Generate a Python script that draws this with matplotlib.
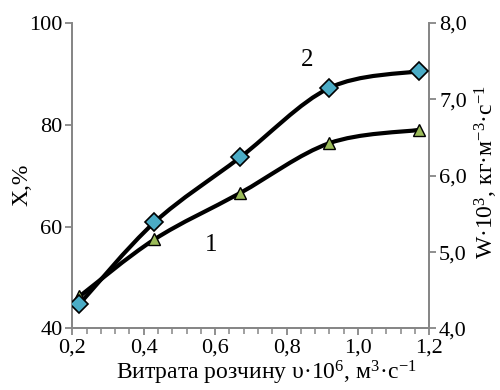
import matplotlib
matplotlib.use('Agg')
import matplotlib.pyplot as plt
from matplotlib.path import Path
from matplotlib.patches import PathPatch
from matplotlib.ticker import MultipleLocator, FuncFormatter

plt.rcParams['font.family'] = ['Liberation Serif', 'DejaVu Serif']
plt.rcParams['mathtext.fontset'] = 'custom'
plt.rcParams['mathtext.rm'] = 'Liberation Serif'
plt.rcParams['mathtext.it'] = 'Liberation Serif:italic'

# solution flow rate, 10^-6 m3/s
flow = [0.22, 0.43, 0.67, 0.92, 1.17]
# curve 1: X, %
conversion = [46.3, 57.5, 66.6, 76.4, 79.0]
# curve 2: W*10^3, kg/(m3*s)
rate = [4.32, 5.39, 6.24, 7.15, 7.37]


def smooth_path(xs, ys):
    # Bezier curve through the points, like a spreadsheet "smoothed line"
    pts = list(zip(xs, ys))
    n = len(pts)
    verts = [pts[0]]
    codes = [Path.MOVETO]
    for i in range(n - 1):
        p0 = pts[i - 1] if i > 0 else pts[i]
        p1 = pts[i]
        p2 = pts[i + 1]
        p3 = pts[i + 2] if i + 2 < n else pts[i + 1]
        c1 = (p1[0] + (p2[0] - p0[0]) / 6, p1[1] + (p2[1] - p0[1]) / 6)
        c2 = (p2[0] - (p3[0] - p1[0]) / 6, p2[1] - (p3[1] - p1[1]) / 6)
        verts += [c1, c2, p2]
        codes += [Path.CURVE4] * 3
    return Path(verts, codes)


def comma(v, pos, fmt):
    return fmt.format(v).replace('.', ',')


fig = plt.figure(figsize=(5, 3.9), dpi=100)
ax = fig.add_axes([0.1446, 0.1577, 0.714, 0.7833])
ax2 = ax.twinx()

gray = '#868686'

ax.add_patch(PathPatch(smooth_path(flow, conversion), fill=False, lw=3,
                       ec='black', zorder=3))
ax.plot(flow, conversion, ls='none', marker='^', ms=8.5, mfc='#9bbb59',
        mec='black', mew=1, zorder=4)

ax2.add_patch(PathPatch(smooth_path(flow, rate), fill=False, lw=3,
                        ec='black', zorder=3))
ax2.plot(flow, rate, ls='none', marker='D', ms=9, mfc='#4bacc6',
         mec='black', mew=1.2, zorder=4)

ax.set_xlim(0.2, 1.2)
ax.set_ylim(40, 100)
ax2.set_ylim(4.0, 8.0)

ax.xaxis.set_major_locator(MultipleLocator(0.2))
ax.xaxis.set_minor_locator(MultipleLocator(0.04))
ax.yaxis.set_major_locator(MultipleLocator(20))
ax2.yaxis.set_major_locator(MultipleLocator(1.0))
ax.xaxis.set_major_formatter(FuncFormatter(lambda v, p: comma(v, p, '{:.1f}')))
ax2.yaxis.set_major_formatter(FuncFormatter(lambda v, p: comma(v, p, '{:.1f}')))

for a in (ax, ax2):
    a.spines['top'].set_visible(False)
    for s in ('left', 'right', 'bottom'):
        a.spines[s].set_color(gray)
        a.spines[s].set_linewidth(1.3)
    a.tick_params(which='major', length=5, width=1.3, color=gray,
                  labelsize=16, pad=2)
    a.tick_params(which='minor', length=4, width=1.1, color=gray)

ax.set_xlabel('Витрата розчину υ·10$^6$, м$^3$·с$^{-1}$', fontsize=17,
              va='center')
ax.xaxis.set_label_coords(0.543, -0.145)
ax.set_ylabel('X,%', fontsize=17, va='center')
ax.yaxis.set_label_coords(-0.141, 0.47)
ax2.set_ylabel('W·10$^3$, кг·м$^{-3}$·с$^{-1}$', fontsize=17, va='center')
ax2.yaxis.set_label_coords(1.159, 0.513)

ax.text(0.59, 56.4, '1', fontsize=18, ha='center', va='center')
ax.text(0.857, 92.7, '2', fontsize=18, ha='center', va='center')

fig.savefig('out.png', dpi=100)
